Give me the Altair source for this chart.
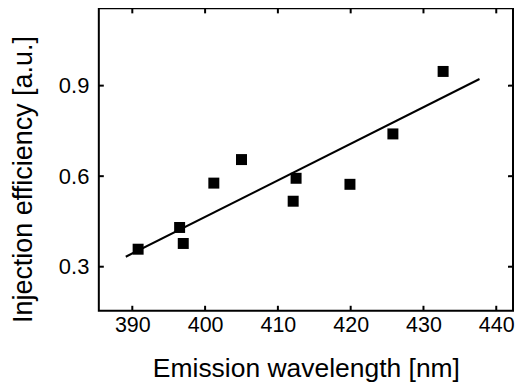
import altair as alt
import pandas as pd

# Data
wavelength = [390.8, 396.5, 397.0, 401.2, 405.0, 412.1, 412.5, 419.9, 425.8, 432.7]
efficiency = [0.358, 0.430, 0.377, 0.577, 0.655, 0.517, 0.593, 0.573, 0.740, 0.947]

fit_x = [389.1, 437.7]
fit_y = [0.333, 0.922]

x_ticks = [390, 400, 410, 420, 430, 440]
y_ticks = [0.3, 0.6, 0.9]

X_DOMAIN = [385.4, 442.3]
Y_DOMAIN = [0.154, 1.156]

W, H = 415, 303
FONT = "Liberation Sans"

pts = pd.DataFrame({"x": wavelength, "y": efficiency})
fit = pd.DataFrame({"x": fit_x, "y": fit_y})
xt = pd.DataFrame({"tx": x_ticks})
yt = pd.DataFrame({"ty": y_ticks})

xscale = alt.Scale(domain=X_DOMAIN, nice=False, zero=False)
yscale = alt.Scale(domain=Y_DOMAIN, nice=False, zero=False)

xaxis = alt.Axis(
    values=x_ticks, ticks=False, domain=False, grid=False,
    labelFontSize=21.5, labelFont=FONT, labelColor="black", labelPadding=4,
    title="Emission wavelength [nm]", titleFontSize=26.5, titleFont=FONT,
    titleFontWeight="normal", titleColor="black",
    titleX=W / 2, titleY=58, titleBaseline="middle", titleAlign="center",
)
yaxis = alt.Axis(
    values=y_ticks, ticks=False, domain=False, grid=False, format=".1f",
    labelFontSize=22, labelFont=FONT, labelColor="black", labelPadding=10,
    title="Injection efficiency [a.u.]", titleFontSize=27, titleFont=FONT,
    titleFontWeight="normal", titleColor="black",
    titleX=-75, titleY=171, titleBaseline="middle", titleAlign="center", titleAngle=270,
)

points = alt.Chart(pts).mark_square(size=121, color="black", opacity=1).encode(
    x=alt.X("x:Q", scale=xscale, axis=xaxis),
    y=alt.Y("y:Q", scale=yscale, axis=yaxis),
)

line = alt.Chart(fit).mark_line(color="black", strokeWidth=2).encode(
    x=alt.X("x:Q", scale=xscale),
    y=alt.Y("y:Q", scale=yscale),
)

TL = 5
bottom_ticks = alt.Chart(xt).mark_rule(color="black", strokeWidth=2).encode(
    x=alt.X("tx:Q", scale=xscale), y=alt.value(H), y2=alt.value(H - TL)
)
top_ticks = alt.Chart(xt).mark_rule(color="black", strokeWidth=2).encode(
    x=alt.X("tx:Q", scale=xscale), y=alt.value(0), y2=alt.value(TL)
)
left_ticks = alt.Chart(yt).mark_rule(color="black", strokeWidth=2).encode(
    y=alt.Y("ty:Q", scale=yscale), x=alt.value(0), x2=alt.value(TL)
)
right_ticks = alt.Chart(yt).mark_rule(color="black", strokeWidth=2).encode(
    y=alt.Y("ty:Q", scale=yscale), x=alt.value(W), x2=alt.value(W - TL)
)

chart = alt.layer(
    line, points, bottom_ticks, top_ticks, left_ticks, right_ticks
).properties(
    width=W, height=H,
    autosize=alt.AutoSizeParams(type="none"),
    padding={"left": 91, "top": 0, "right": 2, "bottom": 72},
    background="white",
).configure_view(stroke="black", strokeWidth=2)

chart.save("out.html", embed_options={"renderer": "svg", "actions": False})
